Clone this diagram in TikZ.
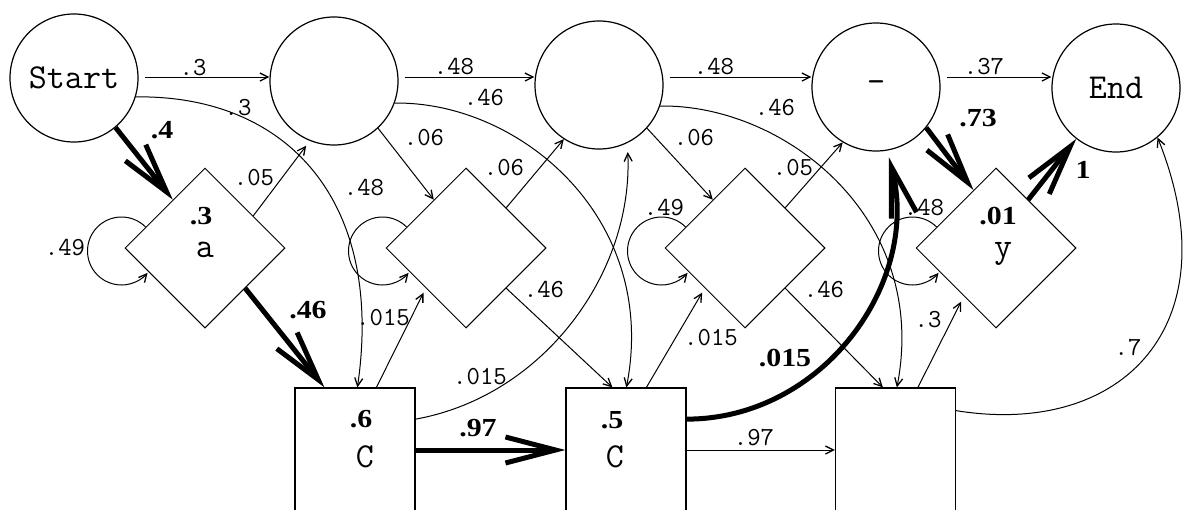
\documentclass[tikz,border=0pt]{standalone}
\usepackage{fontspec}
\newfontfamily\blblfont[FakeStretch=1.15]{Liberation Serif}
\usetikzlibrary{shapes.geometric,arrows.meta,calc}
\tikzset{
  shapeline/.style={draw,line width=1.2pt},
  circ/.style={shapeline,circle,minimum size=128pt,inner sep=0pt,font=\ttfamily\fontsize{35}{35}\selectfont},
  dia/.style={draw,line width=1pt,diamond,minimum width=160pt,minimum height=160pt,inner sep=0pt,font=\ttfamily\fontsize{35}{35}\selectfont},
  sq/.style={shapeline,rectangle,minimum width=120pt,minimum height=124pt,inner sep=0pt},
  thinedge/.style={line width=1pt,-{Straight Barb[length=8pt,width=8pt,line width=1.3pt]}},
  boldedge/.style={line width=5pt,-{Straight Barb[length=50pt,width=26pt,line width=5pt]}},
  lbl/.style={font=\ttfamily\fontsize{26}{26}\selectfont,inner sep=0pt},
  blbl/.style={font=\blblfont\bfseries\fontsize{26}{26}\selectfont,inner sep=0pt},
  nlbl/.style={font=\ttfamily\fontsize{35}{35}\selectfont,inner sep=0pt},
}
\begin{document}
\begin{tikzpicture}[x=1pt,y=-1pt]
\useasboundingbox (0,0) rectangle (1198,509);
% states
\node[circ] (Start) at (74,78) {Start};
\node[circ] (M1) at (334,81) {};
\node[circ] (M2) at (599,85) {};
\node[circ] (M3) at (876,87) {-};
\node[circ] (End) at (1116,88) {End};
\node[dia] (I0) at (205,248) {};
\node[dia] (I1) at (466,248) {};
\node[dia] (I2) at (745,248) {};
\node[dia] (I3) at (996,248) {};
\node[sq] (D1) at (355,450) {};
\node[sq] (D2) at (626,450) {};
\node[sq] (D3) at (895.5,450) {};
\node[nlbl,anchor=base] (ta) at (205,257) {a};
\node[nlbl,anchor=base] (ty) at (1003,257) {y};
\node[nlbl] (c1) at (365,457) {C};
\node[nlbl] (c2) at (615,457) {C};
\coordinate (hl) at (0,77);
% top row
\draw[thinedge,shorten <=6pt] (Start.east |- hl) -- (M1.west |- hl);
\draw[thinedge,shorten <=6pt] (M1.east |- hl) -- (M2.west |- hl);
\draw[thinedge,shorten <=6pt] (M2.east |- hl) -- (M3.west |- hl);
\draw[thinedge,shorten <=6pt] (M3.east |- hl) -- (End.west |- hl);
% circle -> diamond
\draw[boldedge] (Start.-50) -- ($(I0.west)!0.6!(I0.north)$);
\draw[thinedge] (M1.-47) -- ($(I1.west)!0.6!(I1.north)$);
\draw[thinedge] (M2.-42) -- ($(I2.west)!0.6!(I2.north)$);
\draw[boldedge] (M3.-39) -- ($(I3.west)!0.72!(I3.north)$);
% diamond -> circle
\draw[thinedge,shorten >=6pt] ($(I0.north)!0.6!(I0.east)$) -- (M1.-112);
\draw[thinedge] ($(I1.north)!0.5!(I1.east)$) -- (M2.-123);
\draw[thinedge] ($(I2.north)!0.5!(I2.east)$) -- (M3.-121);
\draw[boldedge] ($(I3.north)!0.4!(I3.east)$) -- (End.-128);
% diamond -> square
\draw[boldedge] ($(I0.east)!0.5!(I0.south)$) -- ($(D1.north west)+(30,0)$);
\draw[thinedge] ($(I1.east)!0.5!(I1.south)$) -- ($(D2.north west)+(47,0)$);
\draw[thinedge] ($(I2.east)!0.5!(I2.south)$) -- ($(D3.north west)+(48,0)$);
% square -> diamond
\draw[thinedge,shorten >=5pt] ($(D1.north west)+(82,0)$) -- ($(I1.west)!0.5!(I1.south)$);
\draw[thinedge,shorten >=5pt] ($(D2.north west)+(81,0)$) -- ($(I2.west)!0.5!(I2.south)$);
\draw[thinedge,shorten >=6pt] ($(D3.north west)+(83,0)$) -- ($(I3.west)!0.6!(I3.south)$);
% circle -> square curves
\draw[thinedge] (Start.-17) .. controls +(152,-2) and +(27,-186) .. ($(D1.north west)+(63,0)$);
\draw[thinedge] (M1.-20) .. controls +(123,-2) and +(33,-171) .. ($(D2.north west)+(61,0)$);
\draw[thinedge] (M2.-19) .. controls +(123,-2) and +(33,-171) .. ($(D3.north west)+(62,0)$);
% square -> circle curves
\draw[thinedge,shorten >=9pt] (D1.27) .. controls +(128,-23) and +(6,130) .. (M2.-64);
\draw[boldedge,shorten >=7pt] (D2.27) .. controls +(136,0) and +(34,132) .. (M3.-80);
\draw[thinedge] (D3.33) .. controls +(167,27) and +(75,187) .. (End.-50);
% square -> square
\draw[boldedge] (D1.east) -- (D2.west);
\draw[thinedge] (D2.east) -- (D3.west);
% self loops
\draw[thinedge] ([shift={(-3,3)}]I0.west) ++(-45:34) arc[start angle=-45,end angle=-320,radius=34];
\draw[thinedge] ([shift={(-3,3)}]I1.west) ++(-45:34) arc[start angle=-45,end angle=-320,radius=34];
\draw[thinedge] ([shift={(-3,3)}]I2.west) ++(-45:34) arc[start angle=-45,end angle=-320,radius=34];
\draw[thinedge] ([shift={(-3,3)}]I3.west) ++(-45:34) arc[start angle=-45,end angle=-320,radius=34];
% labels
\node[lbl] (l1) at (193,68) {.3};
\node[lbl] (l2) at (238,108) {.3};
\node[blbl] (l3) at (162,130) {.4};
\node[lbl] (l4) at (254,178) {.05};
\node[lbl] (l5) at (65,248) {.49};
\node[blbl] (l6) at (201,216) {.3};
\node[blbl] (l7) at (308,310) {.46};
\node[lbl] (l8) at (383,318) {.015};
\node[lbl] (l9) at (454,67) {.48};
\node[lbl] (l10) at (484,98) {.46};
\node[lbl] (l11) at (424,138) {.06};
\node[lbl] (l12) at (364,188) {.48};
\node[lbl] (l13) at (504,168) {.06};
\node[lbl] (l14) at (544,290) {.46};
\node[lbl] (l15) at (480,377) {.015};
\node[blbl] (l16) at (478,428) {.97};
\node[blbl] (l17) at (361,419) {.6};
\node[blbl] (l19) at (612,420) {.5};
\node[lbl] (l21) at (714,67) {.48};
\node[lbl] (l22) at (775,108) {.46};
\node[lbl] (l23) at (694,138) {.06};
\node[lbl] (l24) at (664,208) {.49};
\node[lbl] (l25) at (793,168) {.05};
\node[lbl] (l26) at (824,290) {.46};
\node[lbl] (l27) at (711,338) {.015};
\node[blbl] (l28) at (785,358) {.015};
\node[lbl] (l29) at (754,438) {.97};
\node[lbl] (l30) at (984,67) {.37};
\node[blbl] (l31) at (978,118) {.73};
\node[lbl] (l32) at (924,208) {.48};
\node[blbl] (l33) at (1083,170) {1};
\node[blbl] (l34) at (998,216) {.01};
\node[lbl] (l35) at (928,320) {.3};
\node[lbl] (l36) at (1128,348) {.7};
\end{tikzpicture}
\end{document}
